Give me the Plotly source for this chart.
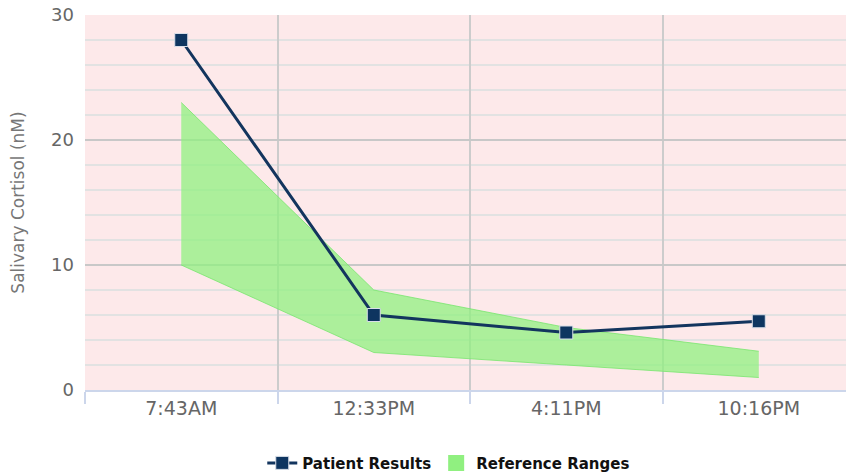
import plotly.graph_objects as go

categories = ["7:43AM", "12:33PM", "4:11PM", "10:16PM"]
patient_results = [28, 6, 4.6, 5.5]
ref_low = [10, 3, 2, 1]
ref_high = [23, 8, 5, 3.1]

fig = go.Figure()
fig.add_trace(go.Scatter(
    x=categories, y=ref_low, mode="lines",
    line=dict(color="rgba(120,230,110,0.8)", width=1),
    showlegend=False, hoverinfo="skip", legendgroup="ref",
))
fig.add_trace(go.Scatter(
    x=categories, y=ref_high, mode="lines", fill="tonexty",
    fillcolor="rgba(144,240,128,0.75)",
    line=dict(color="rgba(120,230,110,0.8)", width=1),
    name="Reference Ranges", showlegend=False, legendgroup="ref",
))
# legend-only entry with a square swatch
fig.add_trace(go.Scatter(
    x=[None], y=[None], mode="markers",
    marker=dict(symbol="square", size=21, color="#90f080"),
    name="Reference Ranges", legendgroup="ref",
))
fig.add_trace(go.Scatter(
    x=categories, y=patient_results, mode="lines+markers",
    line=dict(color="#13355e", width=3),
    marker=dict(symbol="square", size=13, color="#0e3560",
                line=dict(color="#d8dee8", width=1)),
    name="Patient Results",
))

fig.update_layout(
    width=846, height=474,
    margin=dict(l=85, r=0, t=15, b=84, autoexpand=False),
    paper_bgcolor="white",
    plot_bgcolor="#fde9ea",
    font=dict(family="DejaVu Sans", color="#666666"),
    legend=dict(
        orientation="h", x=0.478, xanchor="center", y=-0.195, yanchor="middle",
        font=dict(family="DejaVu Sans", size=15, color="#111111", weight="bold"),
        traceorder="reversed", itemwidth=30,
    ),
    showlegend=True,
)
fig.update_xaxes(
    type="category", range=[-0.5, 3.453], tickson="boundaries",
    showgrid=True, gridcolor="#cccccc", gridwidth=1.5,
    showline=True, linecolor="#ccd6eb", linewidth=2,
    ticks="outside", ticklen=12, tickcolor="#ccd6eb", tickwidth=1.5,
    tickfont=dict(size=19, color="#666666"),
    zeroline=False, automargin=False,
)
fig.update_yaxes(
    range=[0, 30], dtick=10, tick0=0,
    showgrid=True, gridcolor="#c8c8c8", gridwidth=2,
    minor=dict(dtick=2, showgrid=True, gridcolor="#e2e2e2", gridwidth=1.5),
    zeroline=False, showline=False,
    tickfont=dict(size=18, color="#666666"),
    ticks="", ticklabelstandoff=10, automargin=False, ticklabeloverflow="allow",
    title=dict(text="Salivary Cortisol (nM)", font=dict(size=17, color="#777777"), standoff=22),
)

fig.write_html(
    "out.html",
    config={"displayModeBar": False},
    post_script="document.body.style.margin='0px';document.body.style.overflow='hidden';",
)
